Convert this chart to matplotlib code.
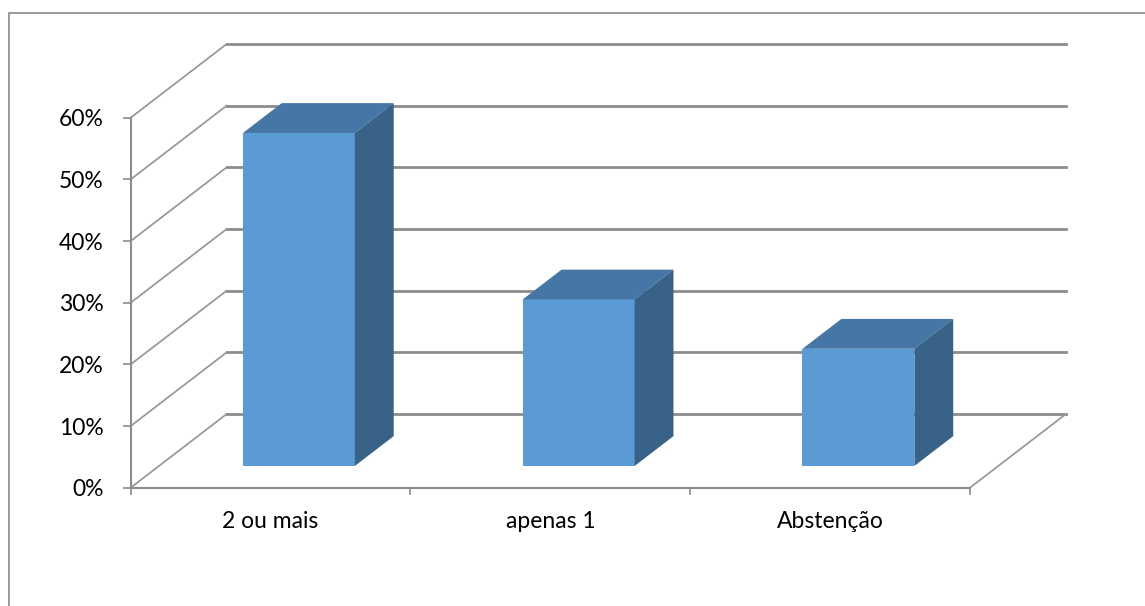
import numpy as np
import matplotlib
matplotlib.use("Agg")
import matplotlib.pyplot as plt
from matplotlib.patches import Polygon, Rectangle

categories = ["2 ou mais", "apenas 1", "Abstenção"]
values = [54, 27, 19]  # percent
yticks = [0, 10, 20, 30, 40, 50, 60]

# oblique projection (depth offset of back wall, in data units)
DX, DY = 0.343, 11.95
Z1, Z2 = 0.295, 0.70   # bar depth span
BAR_W = 0.40

FRONT = "#5b9bd5"
TOP = "#4676a6"
SIDE = "#386287"
GRID = "#8c8c8c"

W, H = 1145, 606
fig = plt.figure(figsize=(W / 100, H / 100), dpi=100)

# chart border
fig.patches.append(Rectangle((9 / W, -0.05), 1.2, 1 - 13 / H + 0.05, transform=fig.transFigure,
                             fill=False, edgecolor="#8a8a8a", lw=1.2))

ax = fig.add_axes([130.7 / W, (H - 487.7) / H, (970 - 130.7) / W, (487.7 - 117.7) / H])
ax.set_xlim(-0.5, 2.5)
ax.set_ylim(0, 60)
ax.set_facecolor("none")

x0, x1 = -0.5, len(categories) - 0.5

# walls: left side diagonals + back wall gridlines
for g in yticks:
    ax.plot([x0, x0 + DX], [g, g + DY], color="#9a9a9a", lw=1.3, clip_on=False, zorder=1)
    ax.plot([x0 + DX, x1 + DX], [g + DY, g + DY], color=GRID, lw=2, clip_on=False, zorder=1)
# right floor edge
ax.plot([x1, x1 + DX], [0, DY], color="#9a9a9a", lw=1.3, clip_on=False, zorder=1)

# bars
for i, v in enumerate(values):
    a = i - BAR_W / 2
    b = i + BAR_W / 2
    f = Polygon([(a + Z1 * DX, Z1 * DY), (b + Z1 * DX, Z1 * DY),
                 (b + Z1 * DX, v + Z1 * DY), (a + Z1 * DX, v + Z1 * DY)],
                closed=True, facecolor=FRONT, edgecolor="none", zorder=3, clip_on=False)
    t = Polygon([(a + Z1 * DX, v + Z1 * DY), (b + Z1 * DX, v + Z1 * DY),
                 (b + Z2 * DX, v + Z2 * DY), (a + Z2 * DX, v + Z2 * DY)],
                closed=True, facecolor=TOP, edgecolor="none", zorder=3, clip_on=False)
    s = Polygon([(b + Z1 * DX, Z1 * DY), (b + Z2 * DX, Z2 * DY),
                 (b + Z2 * DX, v + Z2 * DY), (b + Z1 * DX, v + Z1 * DY)],
                closed=True, facecolor=SIDE, edgecolor="none", zorder=3, clip_on=False)
    for p in (f, t, s):
        ax.add_patch(p)

# axes styling
for sp in ("top", "right"):
    ax.spines[sp].set_visible(False)
for sp in ("left", "bottom"):
    ax.spines[sp].set_color(GRID)
    ax.spines[sp].set_linewidth(1.5)
    ax.spines[sp].set_zorder(2)

ax.set_yticks(yticks)
ax.set_yticklabels([f"{t}%" for t in yticks])
ax.tick_params(axis="y", length=6, width=1.2, color=GRID, pad=13.5, labelsize=16.5)

ax.set_xticks([-0.5, 0.5, 1.5, 2.5])
ax.set_xticklabels([])
ax.set_xticks(range(len(categories)), minor=True)
ax.set_xticklabels(categories, minor=True)
ax.tick_params(axis="x", which="major", length=5, width=1.2, color=GRID)
ax.tick_params(axis="x", which="minor", length=0, pad=17, labelsize=16.5)

for lbl in ax.get_xticklabels(minor=True) + ax.get_yticklabels():
    lbl.set_fontfamily("Lato")

fig.savefig("out.png", dpi=100)
